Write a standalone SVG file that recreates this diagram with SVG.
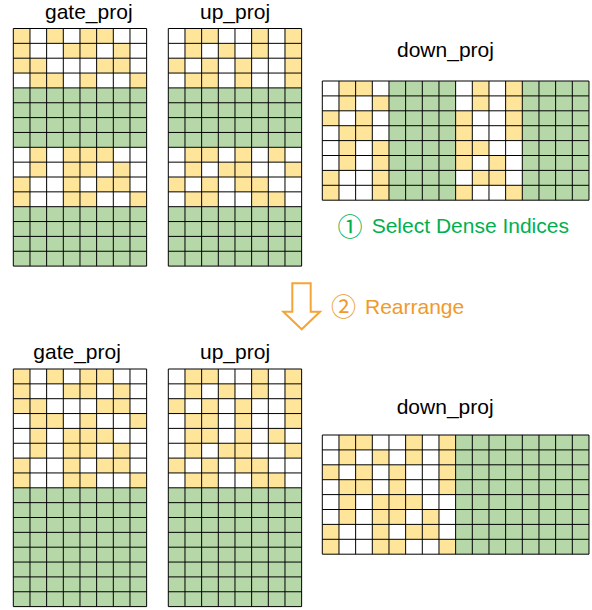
<svg xmlns="http://www.w3.org/2000/svg" xmlns:xlink="http://www.w3.org/1999/xlink" width="592" height="610" viewBox="0 0 592 610">
<style>
.w{fill:#fff}
.g{fill:#B6D7A8}
.ln{fill:none;stroke:#000;stroke-width:1}
.lbl{font-family:"Liberation Sans",Arial,sans-serif;font-size:21px;fill:#000}
.cj{font-family:"Noto Sans CJK SC","DejaVu Sans",sans-serif;font-size:25px}
.step1{font-family:"Liberation Sans",Arial,sans-serif;font-size:21px;fill:#00B050}
.step2{font-family:"Liberation Sans",Arial,sans-serif;font-size:21px;fill:#F09A2C}
</style>
<defs>
<rect id="cy" width="16.67" height="14.85" fill="#FFE599"/>
<rect id="cz" width="16.67" height="14.9" fill="#FFE599"/>
<path id="grid816" class="ln" d="M0,0V237.6M16.67,0V237.6M33.33,0V237.6M50,0V237.6M66.67,0V237.6M83.33,0V237.6M100,0V237.6M116.67,0V237.6M133.33,0V237.6M0,0H133.33M0,14.85H133.33M0,29.7H133.33M0,44.55H133.33M0,59.4H133.33M0,74.25H133.33M0,89.1H133.33M0,103.95H133.33M0,118.8H133.33M0,133.65H133.33M0,148.5H133.33M0,163.35H133.33M0,178.2H133.33M0,193.05H133.33M0,207.9H133.33M0,222.75H133.33M0,237.6H133.33"/>
<path id="grid168" class="ln" d="M0,0V119.2M16.67,0V119.2M33.33,0V119.2M50,0V119.2M66.67,0V119.2M83.33,0V119.2M100,0V119.2M116.67,0V119.2M133.33,0V119.2M150,0V119.2M166.67,0V119.2M183.33,0V119.2M200,0V119.2M216.67,0V119.2M233.33,0V119.2M250,0V119.2M266.67,0V119.2M0,0H266.67M0,14.9H266.67M0,29.8H266.67M0,44.7H266.67M0,59.6H266.67M0,74.5H266.67M0,89.4H266.67M0,104.3H266.67M0,119.2H266.67"/>
</defs>

<g id="top-gate-proj">
<text class="lbl" x="45" y="18.5">gate_proj</text>
<g transform="translate(13.3,28.5)">
<rect class="w" width="133.33" height="237.6"/>
<rect class="g" y="59.4" width="133.33" height="59.4"/>
<rect class="g" y="178.2" width="133.33" height="59.4"/>
<use href="#cy" x="0" y="0"/><use href="#cy" x="33.33" y="0"/><use href="#cy" x="66.67" y="0"/><use href="#cy" x="83.33" y="0"/>
<use href="#cy" x="0" y="14.85"/><use href="#cy" x="50" y="14.85"/><use href="#cy" x="66.67" y="14.85"/><use href="#cy" x="100" y="14.85"/>
<use href="#cy" x="0" y="29.7"/><use href="#cy" x="16.67" y="29.7"/><use href="#cy" x="83.33" y="29.7"/><use href="#cy" x="100" y="29.7"/>
<use href="#cy" x="16.67" y="44.55"/><use href="#cy" x="33.33" y="44.55"/><use href="#cy" x="66.67" y="44.55"/><use href="#cy" x="116.67" y="44.55"/>
<use href="#cy" x="16.67" y="118.8"/><use href="#cy" x="50" y="118.8"/><use href="#cy" x="66.67" y="118.8"/><use href="#cy" x="83.33" y="118.8"/>
<use href="#cy" x="16.67" y="133.65"/><use href="#cy" x="50" y="133.65"/><use href="#cy" x="66.67" y="133.65"/><use href="#cy" x="100" y="133.65"/>
<use href="#cy" x="0" y="148.5"/><use href="#cy" x="50" y="148.5"/><use href="#cy" x="83.33" y="148.5"/><use href="#cy" x="100" y="148.5"/>
<use href="#cy" x="0" y="163.35"/><use href="#cy" x="50" y="163.35"/><use href="#cy" x="66.67" y="163.35"/><use href="#cy" x="116.67" y="163.35"/>
<use href="#grid816"/>
</g>
</g>

<g id="top-up-proj">
<text class="lbl" x="200" y="18.5">up_proj</text>
<g transform="translate(168.3,28.5)">
<rect class="w" width="133.33" height="237.6"/>
<rect class="g" y="59.4" width="133.33" height="59.4"/>
<rect class="g" y="178.2" width="133.33" height="59.4"/>
<use href="#cy" x="16.67" y="0"/><use href="#cy" x="33.33" y="0"/><use href="#cy" x="83.33" y="0"/><use href="#cy" x="116.67" y="0"/>
<use href="#cy" x="16.67" y="14.85"/><use href="#cy" x="50" y="14.85"/><use href="#cy" x="83.33" y="14.85"/><use href="#cy" x="116.67" y="14.85"/>
<use href="#cy" x="0" y="29.7"/><use href="#cy" x="33.33" y="29.7"/><use href="#cy" x="66.67" y="29.7"/><use href="#cy" x="116.67" y="29.7"/>
<use href="#cy" x="16.67" y="44.55"/><use href="#cy" x="33.33" y="44.55"/><use href="#cy" x="66.67" y="44.55"/><use href="#cy" x="116.67" y="44.55"/>
<use href="#cy" x="16.67" y="118.8"/><use href="#cy" x="33.33" y="118.8"/><use href="#cy" x="66.67" y="118.8"/><use href="#cy" x="100" y="118.8"/>
<use href="#cy" x="16.67" y="133.65"/><use href="#cy" x="50" y="133.65"/><use href="#cy" x="66.67" y="133.65"/><use href="#cy" x="116.67" y="133.65"/>
<use href="#cy" x="0" y="148.5"/><use href="#cy" x="33.33" y="148.5"/><use href="#cy" x="66.67" y="148.5"/><use href="#cy" x="83.33" y="148.5"/>
<use href="#cy" x="16.67" y="163.35"/><use href="#cy" x="33.33" y="163.35"/><use href="#cy" x="83.33" y="163.35"/><use href="#cy" x="100" y="163.35"/>
<use href="#grid816"/>
</g>
</g>

<g id="top-down-proj">
<text class="lbl" x="397" y="57">down_proj</text>
<g transform="translate(322.3,81)">
<rect class="w" width="266.67" height="119.2"/>
<rect class="g" x="66.67" width="66.67" height="119.2"/>
<rect class="g" x="200" width="66.67" height="119.2"/>
<use href="#cz" x="16.67" y="0"/><use href="#cz" x="33.33" y="0"/><use href="#cz" x="150" y="0"/><use href="#cz" x="183.33" y="0"/>
<use href="#cz" x="16.67" y="14.9"/><use href="#cz" x="50" y="14.9"/><use href="#cz" x="150" y="14.9"/><use href="#cz" x="183.33" y="14.9"/>
<use href="#cz" x="0" y="29.8"/><use href="#cz" x="33.33" y="29.8"/><use href="#cz" x="133.33" y="29.8"/><use href="#cz" x="183.33" y="29.8"/>
<use href="#cz" x="16.67" y="44.7"/><use href="#cz" x="33.33" y="44.7"/><use href="#cz" x="133.33" y="44.7"/><use href="#cz" x="183.33" y="44.7"/>
<use href="#cz" x="16.67" y="59.6"/><use href="#cz" x="50" y="59.6"/><use href="#cz" x="133.33" y="59.6"/><use href="#cz" x="150" y="59.6"/>
<use href="#cz" x="16.67" y="74.5"/><use href="#cz" x="50" y="74.5"/><use href="#cz" x="133.33" y="74.5"/><use href="#cz" x="166.67" y="74.5"/>
<use href="#cz" x="0" y="89.4"/><use href="#cz" x="50" y="89.4"/><use href="#cz" x="150" y="89.4"/><use href="#cz" x="166.67" y="89.4"/>
<use href="#cz" x="0" y="104.3"/><use href="#cz" x="50" y="104.3"/><use href="#cz" x="133.33" y="104.3"/><use href="#cz" x="183.33" y="104.3"/>
<use href="#grid168"/>
</g>
</g>

<g id="step1-label">
<text class="step1" x="337.5" y="236"><tspan class="cj">①</tspan><tspan x="371.7" y="233.3">Select Dense Indices</tspan></text>
</g>

<g id="connectors">
<path d="M292.3,283.3H310.7V311.7H320L301.7,329.3L283.3,311.7H292.3Z" fill="#fff" stroke="#F5A536" stroke-width="2" stroke-linejoin="miter"/>
</g>

<g id="step2-label">
<text class="step2" x="331" y="316"><tspan class="cj">②</tspan><tspan x="365" y="314">Rearrange</tspan></text>
</g>

<g id="bottom-gate-proj">
<text class="lbl" x="33.3" y="359">gate_proj</text>
<g transform="translate(13.3,369)">
<rect class="w" width="133.33" height="237.6"/>
<rect class="g" y="118.8" width="133.33" height="118.8"/>
<use href="#cy" x="0" y="0"/><use href="#cy" x="33.33" y="0"/><use href="#cy" x="66.67" y="0"/><use href="#cy" x="83.33" y="0"/>
<use href="#cy" x="0" y="14.85"/><use href="#cy" x="50" y="14.85"/><use href="#cy" x="66.67" y="14.85"/><use href="#cy" x="100" y="14.85"/>
<use href="#cy" x="0" y="29.7"/><use href="#cy" x="16.67" y="29.7"/><use href="#cy" x="83.33" y="29.7"/><use href="#cy" x="100" y="29.7"/>
<use href="#cy" x="16.67" y="44.55"/><use href="#cy" x="33.33" y="44.55"/><use href="#cy" x="66.67" y="44.55"/><use href="#cy" x="116.67" y="44.55"/>
<use href="#cy" x="16.67" y="59.4"/><use href="#cy" x="50" y="59.4"/><use href="#cy" x="66.67" y="59.4"/><use href="#cy" x="83.33" y="59.4"/>
<use href="#cy" x="16.67" y="74.25"/><use href="#cy" x="50" y="74.25"/><use href="#cy" x="66.67" y="74.25"/><use href="#cy" x="100" y="74.25"/>
<use href="#cy" x="0" y="89.1"/><use href="#cy" x="50" y="89.1"/><use href="#cy" x="83.33" y="89.1"/><use href="#cy" x="100" y="89.1"/>
<use href="#cy" x="0" y="103.95"/><use href="#cy" x="50" y="103.95"/><use href="#cy" x="66.67" y="103.95"/><use href="#cy" x="116.67" y="103.95"/>
<use href="#grid816"/>
</g>
</g>

<g id="bottom-up-proj">
<text class="lbl" x="200" y="358.5">up_proj</text>
<g transform="translate(168.3,369)">
<rect class="w" width="133.33" height="237.6"/>
<rect class="g" y="118.8" width="133.33" height="118.8"/>
<use href="#cy" x="16.67" y="0"/><use href="#cy" x="33.33" y="0"/><use href="#cy" x="83.33" y="0"/><use href="#cy" x="116.67" y="0"/>
<use href="#cy" x="16.67" y="14.85"/><use href="#cy" x="50" y="14.85"/><use href="#cy" x="83.33" y="14.85"/><use href="#cy" x="116.67" y="14.85"/>
<use href="#cy" x="0" y="29.7"/><use href="#cy" x="33.33" y="29.7"/><use href="#cy" x="66.67" y="29.7"/><use href="#cy" x="116.67" y="29.7"/>
<use href="#cy" x="16.67" y="44.55"/><use href="#cy" x="33.33" y="44.55"/><use href="#cy" x="66.67" y="44.55"/><use href="#cy" x="116.67" y="44.55"/>
<use href="#cy" x="16.67" y="59.4"/><use href="#cy" x="33.33" y="59.4"/><use href="#cy" x="66.67" y="59.4"/><use href="#cy" x="100" y="59.4"/>
<use href="#cy" x="16.67" y="74.25"/><use href="#cy" x="50" y="74.25"/><use href="#cy" x="66.67" y="74.25"/><use href="#cy" x="116.67" y="74.25"/>
<use href="#cy" x="0" y="89.1"/><use href="#cy" x="33.33" y="89.1"/><use href="#cy" x="66.67" y="89.1"/><use href="#cy" x="83.33" y="89.1"/>
<use href="#cy" x="16.67" y="103.95"/><use href="#cy" x="33.33" y="103.95"/><use href="#cy" x="83.33" y="103.95"/><use href="#cy" x="100" y="103.95"/>
<use href="#grid816"/>
</g>
</g>

<g id="bottom-down-proj">
<text class="lbl" x="396.7" y="414">down_proj</text>
<g transform="translate(322.3,435)">
<rect class="w" width="266.67" height="119.2"/>
<rect class="g" x="133.33" width="133.33" height="119.2"/>
<use href="#cz" x="16.67" y="0"/><use href="#cz" x="33.33" y="0"/><use href="#cz" x="83.33" y="0"/><use href="#cz" x="116.67" y="0"/>
<use href="#cz" x="16.67" y="14.9"/><use href="#cz" x="50" y="14.9"/><use href="#cz" x="83.33" y="14.9"/><use href="#cz" x="116.67" y="14.9"/>
<use href="#cz" x="0" y="29.8"/><use href="#cz" x="33.33" y="29.8"/><use href="#cz" x="66.67" y="29.8"/><use href="#cz" x="116.67" y="29.8"/>
<use href="#cz" x="16.67" y="44.7"/><use href="#cz" x="33.33" y="44.7"/><use href="#cz" x="66.67" y="44.7"/><use href="#cz" x="116.67" y="44.7"/>
<use href="#cz" x="16.67" y="59.6"/><use href="#cz" x="50" y="59.6"/><use href="#cz" x="66.67" y="59.6"/><use href="#cz" x="83.33" y="59.6"/>
<use href="#cz" x="16.67" y="74.5"/><use href="#cz" x="50" y="74.5"/><use href="#cz" x="66.67" y="74.5"/><use href="#cz" x="100" y="74.5"/>
<use href="#cz" x="0" y="89.4"/><use href="#cz" x="50" y="89.4"/><use href="#cz" x="83.33" y="89.4"/><use href="#cz" x="100" y="89.4"/>
<use href="#cz" x="0" y="104.3"/><use href="#cz" x="50" y="104.3"/><use href="#cz" x="66.67" y="104.3"/><use href="#cz" x="116.67" y="104.3"/>
<use href="#grid168"/>
</g>
</g>
</svg>
